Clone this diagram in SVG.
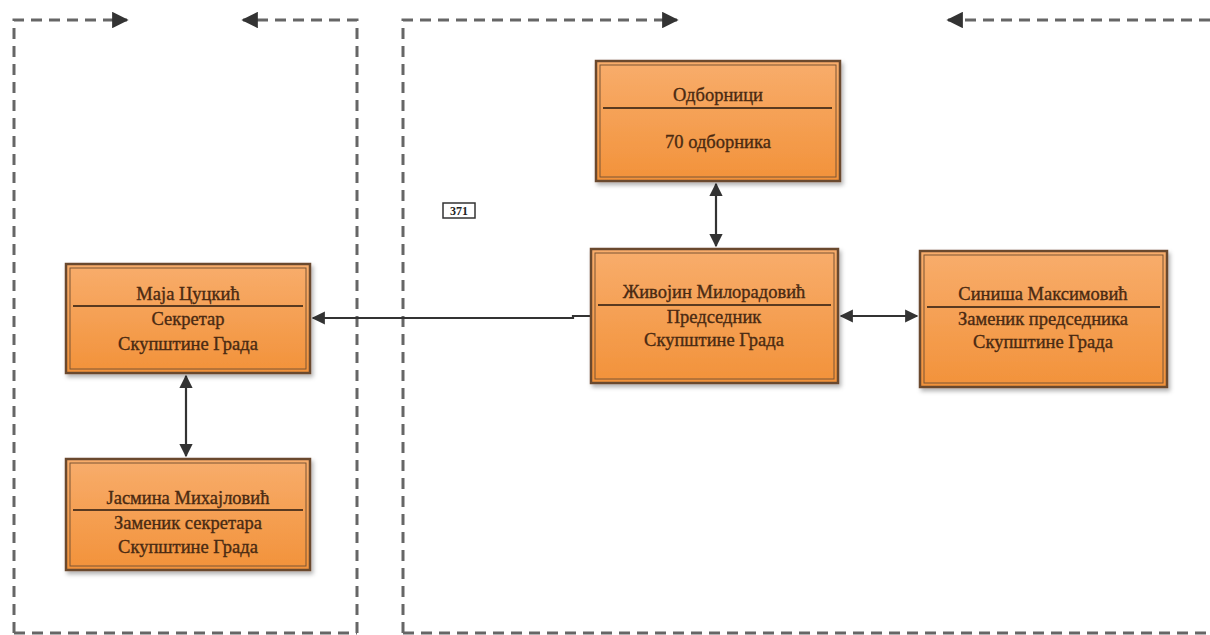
<svg xmlns="http://www.w3.org/2000/svg" width="1210" height="635" viewBox="0 0 1210 635">
<defs>
<linearGradient id="og" x1="0" y1="0" x2="0" y2="1">
<stop offset="0" stop-color="#f8ad6c"/>
<stop offset="1" stop-color="#f2923a"/>
</linearGradient>
<marker id="ah" viewBox="0 0 10 10" refX="9" refY="5" markerWidth="6" markerHeight="6" orient="auto-start-reverse" markerUnits="strokeWidth">
<path d="M0,0 L10,5 L0,10 z" fill="#333"/>
</marker>
<marker id="dh" viewBox="0 0 10 10" refX="9" refY="5" markerWidth="5.5" markerHeight="5.5" orient="auto" markerUnits="strokeWidth">
<path d="M0,0 L10,5 L0,10 z" fill="#333"/>
</marker>
<filter id="sh" x="-5%" y="-5%" width="115%" height="120%">
<feDropShadow dx="2" dy="3" stdDeviation="2" flood-color="#000" flood-opacity="0.3"/>
</filter>
</defs>
<style>
.frame{fill:none;stroke:#666;stroke-width:3;stroke-dasharray:11,7}
.box{fill:url(#og);stroke:#6b4a2f;stroke-width:2.5;filter:url(#sh)}
.inner{fill:none;stroke:#7a5535;stroke-width:1}
.div{stroke:#5a3a20;stroke-width:1.8}
.t{font-family:"Liberation Serif",serif;font-size:18.5px;fill:#4a2a12;stroke:#4a2a12;stroke-width:0.35;text-anchor:middle}
.con{fill:none;stroke:#333;stroke-width:2.2}
</style>

<g id="frames">
<path class="frame" d="M14,633 V20 H127" marker-end="url(#dh)"/>
<path class="frame" d="M357,633 V20 H243" marker-end="url(#dh)"/>
<path class="frame" d="M14,633 H357"/>
<path class="frame" d="M403,633 V20 H677" marker-end="url(#dh)"/>
<path class="frame" d="M1210,20 H948" marker-end="url(#dh)"/>
<path class="frame" d="M403,633 H1210"/>
</g>

<g id="connectors">
<path class="con" d="M716,184 V246" marker-start="url(#ah)" marker-end="url(#ah)"/>
<path class="con" d="M591,316 H573 V318 H313" marker-end="url(#ah)"/>
<path class="con" d="M841,316 H917" marker-start="url(#ah)" marker-end="url(#ah)"/>
<path class="con" d="M186,376 V456" marker-start="url(#ah)" marker-end="url(#ah)"/>
</g>

<g id="badge">
<rect x="443" y="203" width="32" height="15" fill="#fff" stroke="#333" stroke-width="1.5"/>
<text x="459" y="215" font-family="Liberation Serif,serif" font-size="12" font-weight="bold" fill="#222" text-anchor="middle">371</text>
</g>

<g id="odbornici">
<rect class="box" x="596" y="61" width="244" height="120"/>
<rect class="inner" x="600" y="65" width="236" height="112"/>
<line class="div" x1="603" y1="108" x2="832" y2="108"/>
<text class="t" x="718" y="101">Одборници</text>
<text class="t" x="718" y="148">70 одборника</text>
</g>

<g id="maja">
<rect class="box" x="66" y="264" width="244" height="109"/>
<rect class="inner" x="70" y="268" width="236" height="101"/>
<line class="div" x1="73" y1="306" x2="303" y2="306"/>
<text class="t" x="188" y="300">Маја Цуцкић</text>
<text class="t" x="188" y="325">Секретар</text>
<text class="t" x="188" y="350">Скупштине Града</text>
</g>

<g id="zivojin">
<rect class="box" x="591" y="249" width="247" height="134"/>
<rect class="inner" x="595" y="253" width="239" height="126"/>
<line class="div" x1="598" y1="305" x2="831" y2="305"/>
<text class="t" x="714" y="298">Живојин Милорадовић</text>
<text class="t" x="714" y="323">Председник</text>
<text class="t" x="714" y="346">Скупштине Града</text>
</g>

<g id="sinisa">
<rect class="box" x="920" y="251" width="247" height="136"/>
<rect class="inner" x="924" y="255" width="239" height="128"/>
<line class="div" x1="927" y1="307" x2="1160" y2="307"/>
<text class="t" x="1043" y="300">Синиша Максимовић</text>
<text class="t" x="1043" y="325">Заменик председника</text>
<text class="t" x="1043" y="348">Скупштине Града</text>
</g>

<g id="jasmina">
<rect class="box" x="66" y="459" width="244" height="111"/>
<rect class="inner" x="70" y="463" width="236" height="103"/>
<line class="div" x1="73" y1="510" x2="303" y2="510"/>
<text class="t" x="188" y="504">Јасмина Михајловић</text>
<text class="t" x="188" y="529">Заменик секретара</text>
<text class="t" x="188" y="553">Скупштине Града</text>
</g>
</svg>
